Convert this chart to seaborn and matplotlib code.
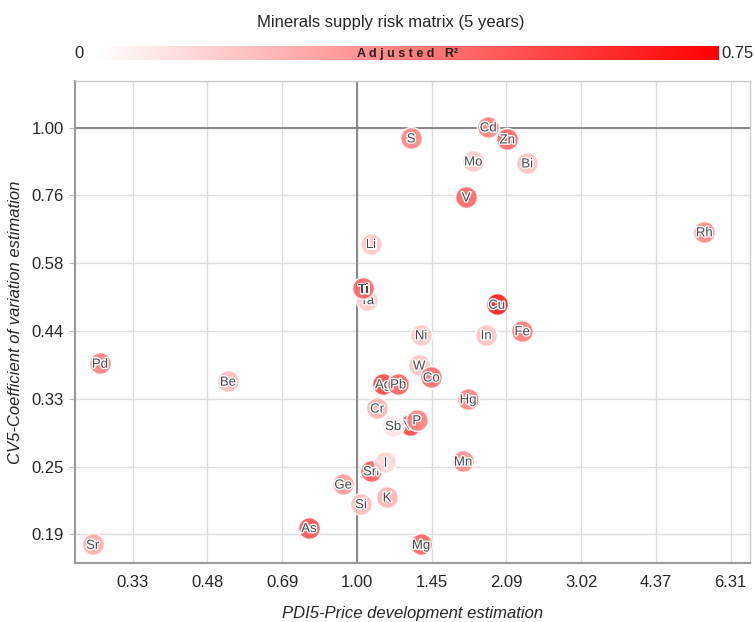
import numpy as np
import pandas as pd
import matplotlib
matplotlib.use("Agg")
import matplotlib.pyplot as plt
import matplotlib.patheffects as pe
from matplotlib.colors import LinearSegmentedColormap
import seaborn as sns

# drawing order matters: later points sit on top of earlier ones
elements = ["Sr", "Pd", "Be", "As", "Ge", "Si", "Sn", "I", "K", "Cr",
            "Nb", "Sb", "P", "Ag", "Pb", "W", "Co", "Hg", "Mn", "Mg",
            "Ni", "In", "Fe", "Cu", "Rh", "V", "Mo", "Bi", "Cd", "Zn",
            "S", "Li", "Ta", "Ti"]
pdi5 = [0.272, 0.282, 0.530, 0.790, 0.935, 1.021, 1.073, 1.150, 1.161, 1.105,
        1.300, 1.196, 1.344, 1.138, 1.226, 1.360, 1.443, 1.731, 1.689, 1.373,
        1.373, 1.892, 2.260, 1.992, 5.545, 1.714, 1.775, 2.316, 1.911, 2.099,
        1.307, 1.073, 1.052, 1.032]
cv5 = [0.183, 0.383, 0.356, 0.196, 0.234, 0.216, 0.247, 0.256, 0.222, 0.319,
       0.298, 0.297, 0.304, 0.352, 0.352, 0.380, 0.362, 0.331, 0.257, 0.183,
       0.430, 0.430, 0.437, 0.487, 0.654, 0.754, 0.873, 0.866, 1.003, 0.955,
       0.959, 0.623, 0.496, 0.520]
adj_r2 = [0.25, 0.38, 0.20, 0.52, 0.30, 0.20, 0.48, 0.12, 0.23, 0.23,
          0.56, 0.08, 0.38, 0.56, 0.47, 0.18, 0.44, 0.38, 0.34, 0.47,
          0.16, 0.18, 0.40, 0.68, 0.36, 0.47, 0.16, 0.18, 0.38, 0.47,
          0.38, 0.16, 0.16, 0.47]

x_step, y_step = 10 ** 0.16, 10 ** 0.12
xtick_pos = x_step ** np.arange(-3, 6)
ytick_pos = y_step ** np.arange(-6, 1)

df = pd.DataFrame({"element": elements, "pdi5": pdi5, "cv5": cv5, "r2": adj_r2})

sns.set_style("white")
plt.rcParams["font.family"] = ["Liberation Sans", "DejaVu Sans"]

cmap = LinearSegmentedColormap.from_list("r2", ["#ffffff", "#ff0000"])

fig = plt.figure(figsize=(7.55, 6.22), dpi=100)
ax = fig.add_axes([0.099, 0.095, 0.895, 0.775])

for i, row in df.iterrows():
    sns.scatterplot(data=df.iloc[[i]], x="pdi5", y="cv5", hue="r2",
                    palette=cmap, hue_norm=(0, 0.75), s=250, alpha=0.88,
                    edgecolor=(1, 1, 1, 0.7), linewidth=1.2, legend=False,
                    ax=ax, zorder=3 + 2 * i)
    ax.text(row["pdi5"], row["cv5"], row["element"], ha="center",
            va="center_baseline", fontsize=9.5, color="#4a4a4a", zorder=4 + 2 * i,
            path_effects=[pe.withStroke(linewidth=2, foreground="white")])

ax.set_xscale("log")
ax.set_yscale("log")
ax.set_xlim(0.249, 6.96)
ax.set_ylim(0.1697, 1.21)
ax.set_xticks(xtick_pos)
ax.set_xticklabels(["%.2f" % v for v in xtick_pos])
ax.set_yticks(ytick_pos)
ax.set_yticklabels(["%.2f" % v for v in ytick_pos])
ax.minorticks_off()
ax.grid(True, color="#dddddd", linewidth=1)
ax.set_axisbelow(True)
ax.axvline(1, color="#777777", linewidth=1.2, zorder=2)
ax.axhline(1, color="#777777", linewidth=1.2, zorder=2)

ax.tick_params(axis="y", which="major", length=4, color="#bbbbbb", labelsize=12, pad=4, left=True)
ax.tick_params(axis="x", which="major", length=0, labelsize=12, pad=9)
for side in ["left", "bottom"]:
    ax.spines[side].set_color("#999999")
    ax.spines[side].set_linewidth(1.5)
for side in ["top", "right"]:
    ax.spines[side].set_color("#cccccc")
    ax.spines[side].set_linewidth(1)

ax.set_xlabel("PDI5-Price development estimation", fontsize=12, style="italic", labelpad=11)
ax.set_ylabel("CV5-Coefficient of variation estimation", fontsize=12, style="italic", labelpad=6)

# colour scale on top
cax = fig.add_axes([0.127, 0.9035, 0.825, 0.0225])
cax.imshow(np.linspace(0, 0.75, 256)[None, :], aspect="auto", cmap=cmap,
           vmin=0, vmax=0.75, extent=[0, 0.75, 0, 1])
cax.set_axis_off()
cax.text(0.375, 0.42, "A d j u s t e d   R²", ha="center", va="center",
         fontsize=9, fontweight="bold", color="#222222")
fig.text(0.105, 0.914, "0", ha="center", va="center", fontsize=12)
fig.text(0.955, 0.914, "0.75", ha="left", va="center", fontsize=12)
fig.text(0.517, 0.964, "Minerals supply risk matrix (5 years)", ha="center",
         va="center", fontsize=12)

fig.savefig("out.png", dpi=100)
